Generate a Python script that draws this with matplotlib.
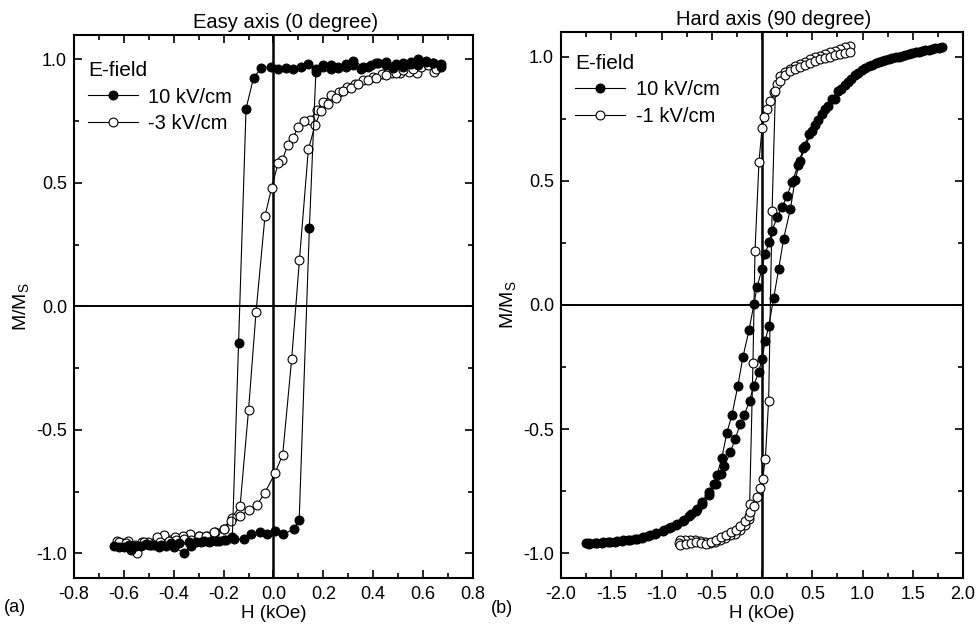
import numpy as np
import matplotlib
matplotlib.use("Agg")
import matplotlib.pyplot as plt
from matplotlib.ticker import MultipleLocator, FormatStrFormatter

plt.rcParams['font.family'] = ['Liberation Sans', 'DejaVu Sans']
plt.rcParams['axes.unicode_minus'] = False

# ---- (a) easy axis ----
a_fill_H = [0.67, 0.64, 0.61, 0.58, 0.55, 0.52, 0.48, 0.45, 0.41, 0.38, 0.35, 0.32, 0.29, 0.26,
            0.23, 0.20, 0.17, 0.14, 0.11, 0.08, 0.05, 0.02, -0.01, -0.05, -0.08, -0.11, -0.14,
            -0.165, -0.20, -0.23, -0.26, -0.29, -0.33, -0.36, -0.40, -0.43, -0.46, -0.50, -0.53,
            -0.57, -0.60, -0.64,
            -0.62, -0.58, -0.55, -0.51, -0.48, -0.45, -0.41, -0.38, -0.34, -0.31, -0.28, -0.25,
            -0.22, -0.19, -0.16, -0.12, -0.09, -0.056, -0.027, 0.006, 0.04, 0.083, 0.103, 0.144,
            0.17, 0.20, 0.23, 0.26, 0.29, 0.32, 0.36, 0.39, 0.42, 0.45, 0.49, 0.52, 0.55, 0.58,
            0.61, 0.64, 0.67]
a_fill_M = [0.97, 0.985, 0.99, 0.975, 0.98, 0.97, 0.965, 0.975, 0.985, 0.97, 0.96, 0.975, 0.97,
            0.965, 0.975, 0.97, 0.96, 0.98, 0.97, 0.96, 0.965, 0.96, 0.97, 0.963, 0.925, 0.80,
            -0.15, -0.935, -0.945, -0.952, -0.954, -0.956, -0.97, -0.997, -0.976, -0.972, -0.976,
            -0.967, -0.97, -0.986, -0.976, -0.97,
            -0.976, -0.965, -0.97, -0.962, -0.968, -0.965, -0.96, -0.958, -0.955, -0.955, -0.95,
            -0.95, -0.948, -0.945, -0.943, -0.943, -0.92, -0.913, -0.92, -0.909, -0.923, -0.90,
            -0.865, 0.317, 0.95, 0.975, 0.96, 0.97, 0.98, 0.995, 0.97, 0.975, 0.985, 0.99, 0.98,
            0.985, 0.99, 1.0, 0.995, 0.985, 0.98]

a_open_H = [0.669, 0.642, 0.609, 0.575, 0.542, 0.508, 0.475, 0.435, 0.401, 0.361, 0.328, 0.294,
            0.261, 0.23, 0.2, 0.174, 0.147, 0.124, 0.1, 0.077, 0.057, 0.036, 0.019, -0.007,
            -0.034, -0.07, -0.1, -0.134, -0.167, -0.2, -0.234, -0.268, -0.297, -0.334, -0.361,
            -0.395, -0.439, -0.468, -0.502, -0.528, -0.548, -0.582, -0.609, -0.626,
            -0.62, -0.59, -0.555, -0.52, -0.49, -0.455, -0.42, -0.39, -0.36, -0.33, -0.30, -0.27,
            -0.24, -0.2, -0.171, -0.134, -0.097, -0.067, -0.034, 0.006, 0.037, 0.073, 0.104,
            0.14, 0.167, 0.19, 0.22, 0.25, 0.28, 0.31, 0.34, 0.38, 0.41, 0.45, 0.49, 0.52, 0.56,
            0.59, 0.62, 0.65]
a_open_M = [0.972, 0.95, 0.986, 0.943, 0.95, 0.945, 0.945, 0.94, 0.93, 0.916, 0.902, 0.889,
            0.869, 0.855, 0.828, 0.795, 0.754, 0.752, 0.727, 0.68, 0.653, 0.593, 0.582, 0.481,
            0.366, -0.024, -0.42, -0.81, -0.855, -0.90, -0.913, -0.93, -0.93, -0.92, -0.93,
            -0.932, -0.927, -0.932, -0.954, -0.956, -0.997, -0.95, -0.96, -0.95,
            -0.955, -0.96, -0.965, -0.955, -0.965, -0.954, -0.95, -0.945, -0.94, -0.945, -0.93,
            -0.93, -0.915, -0.90, -0.869, -0.848, -0.824, -0.805, -0.754, -0.676, -0.60, -0.213,
            0.186, 0.636, 0.734, 0.79, 0.82, 0.845, 0.87, 0.885, 0.90, 0.915, 0.925, 0.935,
            0.945, 0.955, 0.96, 0.97, 0.975, 0.96]

# ---- (b) hard axis ----
b_fill_H = [1.79, 1.72, 1.66, 1.59, 1.53, 1.46, 1.39, 1.33, 1.26, 1.19, 1.13, 1.06, 0.99, 0.93,
            0.86, 0.79, 0.73, 0.66, 0.60, 0.53, 0.47, 0.41, 0.36, 0.30, 0.25, 0.20, 0.15, 0.10,
            0.07, 0.03, 0.00, -0.05, -0.08, -0.13, -0.19, -0.24, -0.30, -0.35, -0.40, -0.45,
            -0.48, -0.53, -0.60, -0.65, -0.71, -0.78, -0.85, -0.91, -0.98, -1.05, -1.11, -1.18,
            -1.24, -1.31, -1.38, -1.44, -1.51, -1.58, -1.64, -1.72, -1.75,
            -1.72, -1.66, -1.59, -1.53, -1.46, -1.39, -1.33, -1.26, -1.19, -1.13, -1.06, -0.99,
            -0.93, -0.86, -0.79, -0.73, -0.66, -0.60, -0.53, -0.46, -0.41, -0.375, -0.315,
            -0.266, -0.216, -0.176, -0.123, -0.083, -0.033, 0.0, 0.033, 0.066, 0.116, 0.166,
            0.215, 0.282, 0.33, 0.38, 0.43, 0.50, 0.56, 0.63, 0.70, 0.76, 0.83, 0.89, 0.96,
            1.02, 1.09, 1.16, 1.22, 1.29, 1.36, 1.42, 1.49, 1.56, 1.62, 1.69, 1.76]
b_fill_M = [1.037, 1.033, 1.027, 1.023, 1.017, 1.010, 1.003, 0.997, 0.990, 0.983, 0.974, 0.963,
            0.945, 0.925, 0.896, 0.868, 0.830, 0.800, 0.770, 0.725, 0.690, 0.630, 0.563, 0.496,
            0.440, 0.393, 0.353, 0.299, 0.252, 0.205, 0.145, 0.071, 0.004, -0.103, -0.21,
            -0.325, -0.445, -0.515, -0.617, -0.687, -0.72, -0.754, -0.794, -0.821, -0.841,
            -0.868, -0.881, -0.895, -0.908, -0.918, -0.928, -0.935, -0.942, -0.946, -0.948,
            -0.952, -0.955, -0.955, -0.958, -0.958, -0.960,
            -0.962, -0.960, -0.958, -0.956, -0.953, -0.950, -0.947, -0.943, -0.937, -0.930,
            -0.921, -0.911, -0.899, -0.885, -0.870, -0.85, -0.828, -0.80, -0.765, -0.72, -0.68,
            -0.649, -0.593, -0.539, -0.479, -0.443, -0.385, -0.325, -0.271, -0.217, -0.144,
            -0.086, 0.027, 0.145, 0.266, 0.386, 0.505, 0.58, 0.64, 0.70, 0.745, 0.79, 0.83,
            0.86, 0.885, 0.91, 0.935, 0.955, 0.968, 0.978, 0.987, 0.994, 1.0, 1.007, 1.013,
            1.02, 1.025, 1.03, 1.035]

b_open_H = [0.88, 0.83, 0.78, 0.73, 0.68, 0.63, 0.58, 0.53, 0.48, 0.43, 0.38, 0.33, 0.28, 0.23,
            0.18, 0.15, 0.12, 0.08, 0.05, 0.02, 0.00, -0.03, -0.07, -0.09, -0.123, -0.133,
            -0.166, -0.216, -0.266, -0.316, -0.366, -0.415, -0.465, -0.514, -0.564, -0.614,
            -0.664, -0.714, -0.763, -0.813, -0.83,
            -0.813, -0.76, -0.71, -0.66, -0.61, -0.56, -0.51, -0.46, -0.41, -0.36, -0.31, -0.26,
            -0.216, -0.166, -0.133, -0.116, -0.083, -0.05, -0.017, 0.006, 0.033, 0.066, 0.10,
            0.133, 0.18, 0.23, 0.28, 0.33, 0.38, 0.43, 0.48, 0.53, 0.58, 0.63, 0.68, 0.73, 0.78,
            0.83, 0.88]
b_open_M = [1.043, 1.037, 1.030, 1.024, 1.017, 1.010, 1.003, 0.997, 0.990, 0.979, 0.970, 0.963,
            0.950, 0.936, 0.923, 0.889, 0.856, 0.820, 0.789, 0.755, 0.711, 0.577, 0.216, -0.235,
            -0.80, -0.861, -0.888, -0.908, -0.922, -0.928, -0.939, -0.948, -0.955, -0.958,
            -0.955, -0.952, -0.948, -0.948, -0.948, -0.948, -0.958,
            -0.966, -0.962, -0.958, -0.955, -0.958, -0.962, -0.955, -0.945, -0.935, -0.925,
            -0.915, -0.905, -0.89, -0.87, -0.852, -0.834, -0.808, -0.774, -0.736, -0.70, -0.62,
            -0.385, 0.377, 0.86, 0.90, 0.925, 0.94, 0.952, 0.96, 0.968, 0.975, 0.982, 0.99,
            0.996, 1.0, 1.005, 1.01, 1.015, 1.017]

fig = plt.figure(figsize=(9.76, 6.29), dpi=100)
ax1 = fig.add_axes([0.0758, 0.081, 0.4088, 0.864])
ax2 = fig.add_axes([0.5748, 0.081, 0.4119, 0.8685])

ms = 6.4
for ax, fH, fM, oH, oM, lab, xl, xmaj, title, tag, legy in [
        (ax1, a_fill_H, a_fill_M, a_open_H, a_open_M, '-3 kV/cm', 0.8, 0.2,
         'Easy axis (0 degree)', '(a)', 0.962),
        (ax2, b_fill_H, b_fill_M, b_open_H, b_open_M, '-1 kV/cm', 2.0, 0.5,
         'Hard axis (90 degree)', '(b)', 0.970)]:
    ax.axhline(0, color='k', lw=1.4, zorder=1)
    ax.axvline(0, color='k', lw=1.8, zorder=1)
    ax.plot(fH, fM, '-o', color='k', lw=0.8, ms=ms, mfc='k', mec='k', mew=0.8,
            label='10 kV/cm', zorder=3)
    ax.plot(oH, oM, '-o', color='k', lw=0.8, ms=ms, mfc='white', mec='k', mew=0.8,
            label=lab, zorder=2)
    ax.set_xlim(-xl, xl)
    ax.set_ylim(-1.1, 1.1)
    ax.xaxis.set_major_locator(MultipleLocator(xmaj))
    ax.xaxis.set_minor_locator(MultipleLocator(xmaj / 2))
    ax.yaxis.set_major_locator(MultipleLocator(0.5))
    ax.yaxis.set_minor_locator(MultipleLocator(0.25))
    ax.xaxis.set_major_formatter(FormatStrFormatter('%.1f'))
    ax.yaxis.set_major_formatter(FormatStrFormatter('%.1f'))
    ax.tick_params(which='both', direction='in', top=True, right=True, labelsize=13,
                   width=1.2)
    ax.tick_params(axis='x', pad=6)
    ax.tick_params(axis='y', pad=5)
    ax.tick_params(which='major', length=6)
    ax.tick_params(which='minor', length=3.5)
    for s in ax.spines.values():
        s.set_linewidth(1.5)
    ax.set_xlabel('H (kOe)', fontsize=13.5, labelpad=1)
    ax.set_ylabel('M/M$_\\mathregular{S}$', fontsize=14, labelpad=3)
    ax.set_title(title, fontsize=14.5, pad=5, x=0.53)
    leg = ax.legend(title='E-field', loc='upper left', bbox_to_anchor=(0.02, legy),
                    frameon=False, fontsize=14.5, title_fontsize=15, handlelength=2.5,
                    borderaxespad=0.0, borderpad=0.3, labelspacing=0.36, handletextpad=0.5)
    leg._legend_box.align = 'left'
    ax.text(-0.175, -0.055, tag, transform=ax.transAxes, fontsize=13, va='center')

fig.savefig('out.png', dpi=100)
